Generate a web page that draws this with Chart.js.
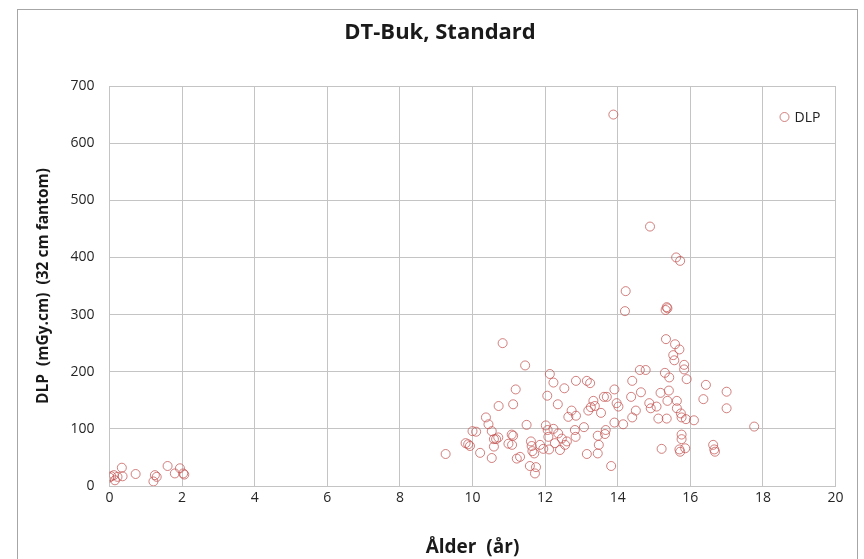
<!DOCTYPE html>
<html>
<head>
<meta charset="utf-8">
<title>DT-Buk, Standard</title>
<script src="https://cdn.jsdelivr.net/npm/chart.js@4/dist/chart.umd.min.js"></script>
<style>
  html, body { margin: 0; padding: 0; background: #fff; }
  #wrap { position: relative; width: 864px; height: 559px; overflow: hidden; }
  #frame { position: absolute; left: 17px; top: 9px; width: 839px; height: 600px; border: 1px solid #a6a6a6; }
  #dlpChart { position: absolute; left: 0; top: 0; }
</style>
</head>
<body>
<div id="wrap">
  <div id="frame"></div>
  <canvas id="dlpChart" width="864" height="559"></canvas>
</div>
<script>
// Ålder (år) per undersökning
const ages = [
  0.0, 0.05, 0.12, 0.15, 0.22, 0.34, 0.36, 0.72, 1.21, 1.25, 1.30, 1.60, 1.80, 1.94, 2.03, 2.06,
  9.26, 9.81, 9.88, 9.93, 10.0, 10.10, 10.21, 10.37, 10.44, 10.53, 10.53, 10.59, 10.59, 10.65,
  10.71, 10.72, 10.83, 10.99, 11.08, 11.12, 11.09, 11.12, 11.19, 11.22, 11.31, 11.45, 11.49,
  11.58, 11.61, 11.63, 11.65, 11.70, 11.72, 11.75, 11.86, 11.95, 12.02, 12.07, 12.06, 12.13,
  12.23, 12.23, 12.09, 12.11, 12.27, 12.35, 12.36, 12.41, 12.46, 12.53, 12.55, 12.60, 12.64,
  12.73, 12.85, 12.85, 12.82, 12.84, 13.07, 13.15, 13.15, 13.24, 13.19, 13.26, 13.33, 13.37,
  13.45, 13.48, 13.45, 13.54, 13.62, 13.70, 13.67, 13.65, 13.82, 13.88, 13.91, 13.91, 13.97,
  14.02, 14.15, 14.20, 14.22, 14.37, 14.40, 14.40, 14.50, 14.61, 14.64, 14.77, 14.87, 14.89,
  14.91, 15.07, 15.12, 15.18, 15.21, 15.30, 15.32, 15.35, 15.37, 15.33, 15.35, 15.37, 15.42,
  15.41, 15.53, 15.56, 15.58, 15.61, 15.63, 15.63, 15.70, 15.72, 15.70, 15.72, 15.74, 15.76,
  15.76, 15.76, 15.83, 15.83, 15.86, 15.88, 15.90, 16.10, 16.36, 16.43, 16.63, 16.66, 16.68,
  17.0, 17.0, 17.76
];

// DLP (mGy.cm), 32 cm fantom
const dlpValues = [
  15, 17, 19, 10, 16, 32, 17, 21, 8, 19, 16, 35, 22, 31, 22, 20,
  56, 75, 73, 70, 96, 95, 58, 120, 108, 96, 49, 82, 69, 82,
  85, 140, 250, 74, 90, 88, 72, 143, 169, 48, 51, 211, 107,
  35, 78, 70, 61, 57, 22, 33, 72, 65, 106, 98, 158, 196,
  181, 100, 86, 64, 75, 143, 92, 63, 83, 171, 72, 78, 121,
  132, 123, 184, 98, 86, 103, 56, 184, 180, 132, 138, 149, 140,
  88, 72, 57, 128, 156, 156, 98, 91, 35, 650, 169, 111, 145,
  139, 108, 306, 341, 156, 184, 120, 132, 203, 164, 203, 145, 454,
  136, 139, 118, 163, 65, 198, 308, 313, 311, 257, 118, 149, 190,
  167, 229, 220, 248, 400, 149, 136, 239, 394, 64, 60, 127, 120,
  90, 82, 212, 204, 66, 117, 187, 115, 152, 177, 72, 64, 60,
  165, 136, 104
];

const xTicks = [0, 2, 4, 6, 8, 10, 12, 14, 16, 18, 20];
const yTicks = [0, 100, 200, 300, 400, 500, 600, 700];

const seriesName = 'DLP';
const markerColor = 'rgba(192, 80, 77, 0.72)';
const gridColor = '#c4c4c4';
const fontFamily = "'Open Sans', 'Noto Sans', sans-serif";

const points = ages.map((a, i) => ({ x: a, y: dlpValues[i] }));

// legend entry sits inside the plot, top right
const insideLegend = {
  id: 'insideLegend',
  afterDraw(chart) {
    const ctx = chart.ctx;
    const x = chart.chartArea.right - 51;
    const y = chart.chartArea.top + 31;
    ctx.save();
    ctx.beginPath();
    ctx.arc(x, y, 4.5, 0, Math.PI * 2);
    ctx.strokeStyle = markerColor;
    ctx.lineWidth = 1;
    ctx.stroke();
    ctx.fillStyle = '#222';
    ctx.font = '14px ' + fontFamily;
    ctx.textBaseline = 'middle';
    ctx.fillText(seriesName, x + 10, y + 1);
    ctx.restore();
  }
};

function initChart() {
  const ctx = document.getElementById('dlpChart').getContext('2d');
  new Chart(ctx, {
    type: 'scatter',
    data: {
      datasets: [{
        label: seriesName,
        data: points,
        pointStyle: 'circle',
        pointRadius: 4.5,
        pointHoverRadius: 4.5,
        pointBackgroundColor: 'rgba(0,0,0,0)',
        pointBorderColor: markerColor,
        pointBorderWidth: 1
      }]
    },
    options: {
      responsive: false,
      animation: false,
      layout: { padding: { left: 16, right: 0, top: 0, bottom: 0 } },
      scales: {
        x: {
          type: 'linear',
          min: 0,
          max: 20,
          afterBuildTicks: s => { s.ticks = xTicks.map(v => ({ value: v })); },
          afterFit: s => { s.height = 73; },
          grid: { color: gridColor, lineWidth: 1, drawTicks: false },
          border: { color: gridColor, width: 1 },
          ticks: { padding: 4, color: '#262626', font: { family: fontFamily, size: 14 } },
          title: {
            display: true,
            text: 'Ålder  (år)',
            color: '#1a1a1a',
            padding: { top: 0, bottom: 0 },
            font: { family: fontFamily, size: 19, weight: 'bold' }
          }
        },
        y: {
          type: 'linear',
          min: 0,
          max: 700,
          afterBuildTicks: s => { s.ticks = yTicks.map(v => ({ value: v })); },
          afterFit: s => { s.width = 93.5; },
          grid: { color: gridColor, lineWidth: 1, drawTicks: false },
          border: { color: gridColor, width: 1 },
          ticks: { padding: 15, color: '#262626', font: { family: fontFamily, size: 14 } },
          title: {
            display: true,
            text: 'DLP  (mGy.cm)  (32 cm fantom)',
            color: '#1a1a1a',
            padding: { top: 18, bottom: 0 },
            font: { family: fontFamily, size: 15.5, weight: 'bold' }
          }
        },
        // empty strip on the right so the title centres on the frame
        yRight: {
          type: 'linear',
          position: 'right',
          min: 0,
          max: 700,
          afterFit: s => { s.width = 28.5; },
          grid: { display: false },
          border: { display: false },
          ticks: { display: false }
        }
      },
      plugins: {
        legend: { display: false },
        tooltip: { enabled: false },
        title: {
          display: true,
          text: 'DT-Buk, Standard',
          color: '#1a1a1a',
          padding: { top: 20, bottom: 39.6 },
          font: { family: fontFamily, size: 22, weight: 'bold' }
        }
      }
    },
    plugins: [insideLegend]
  });
}

window.onload = initChart;
</script>
</body>
</html>
